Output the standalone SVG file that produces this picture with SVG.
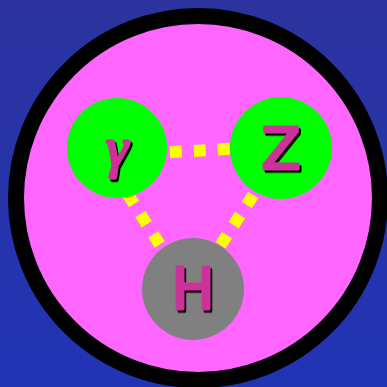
<svg xmlns="http://www.w3.org/2000/svg" width="387" height="387" viewBox="0 0 387 387">
<defs>
<linearGradient id="bg" x1="0" y1="0" x2="0" y2="1">
<stop offset="0" stop-color="#2c339e"/>
<stop offset="1" stop-color="#2133b6"/>
</linearGradient>
<filter id="shadow" x="-20%" y="-20%" width="150%" height="150%">
<feDropShadow dx="2" dy="2.5" stdDeviation="0" flood-color="#000" flood-opacity="1"/>
</filter>
</defs>
<style>
.lbl{text-anchor:middle;stroke-linejoin:round;stroke-linecap:round;fill:#cc3399;stroke:#cc3399;stroke-width:3;filter:url(#shadow)}
.sans{font-family:"DejaVu Sans","Liberation Sans",sans-serif;font-size:57px}
.serif{font-family:"Liberation Serif","DejaVu Serif",serif;font-style:italic;font-size:55px}
.link{stroke:#ffff00;stroke-width:12;stroke-dasharray:12 12;fill:none}
</style>
<rect width="387" height="387" fill="url(#bg)"/>
<circle id="outer" cx="198" cy="198" r="182" fill="#ff66ff" stroke="#000" stroke-width="16"/>
<g id="connectors">
<line class="link" x1="121.9" y1="155" x2="280" y2="146"/>
<line class="link" x1="127.5" y1="193.9" x2="190" y2="292"/>
<line class="link" x1="253.3" y1="195" x2="190" y2="292"/>
</g>
<g id="gamma">
<circle cx="117" cy="148" r="50" fill="#00ff00"/>
<text class="lbl serif" x="117" y="166">γ</text>
</g>
<g id="Z">
<circle cx="281" cy="148" r="51" fill="#00ff00"/>
<text class="lbl sans" x="281" y="169">Z</text>
</g>
<g id="H">
<circle cx="193" cy="289" r="51" fill="#808080"/>
<text class="lbl sans" x="193" y="309">H</text>
</g>
</svg>
